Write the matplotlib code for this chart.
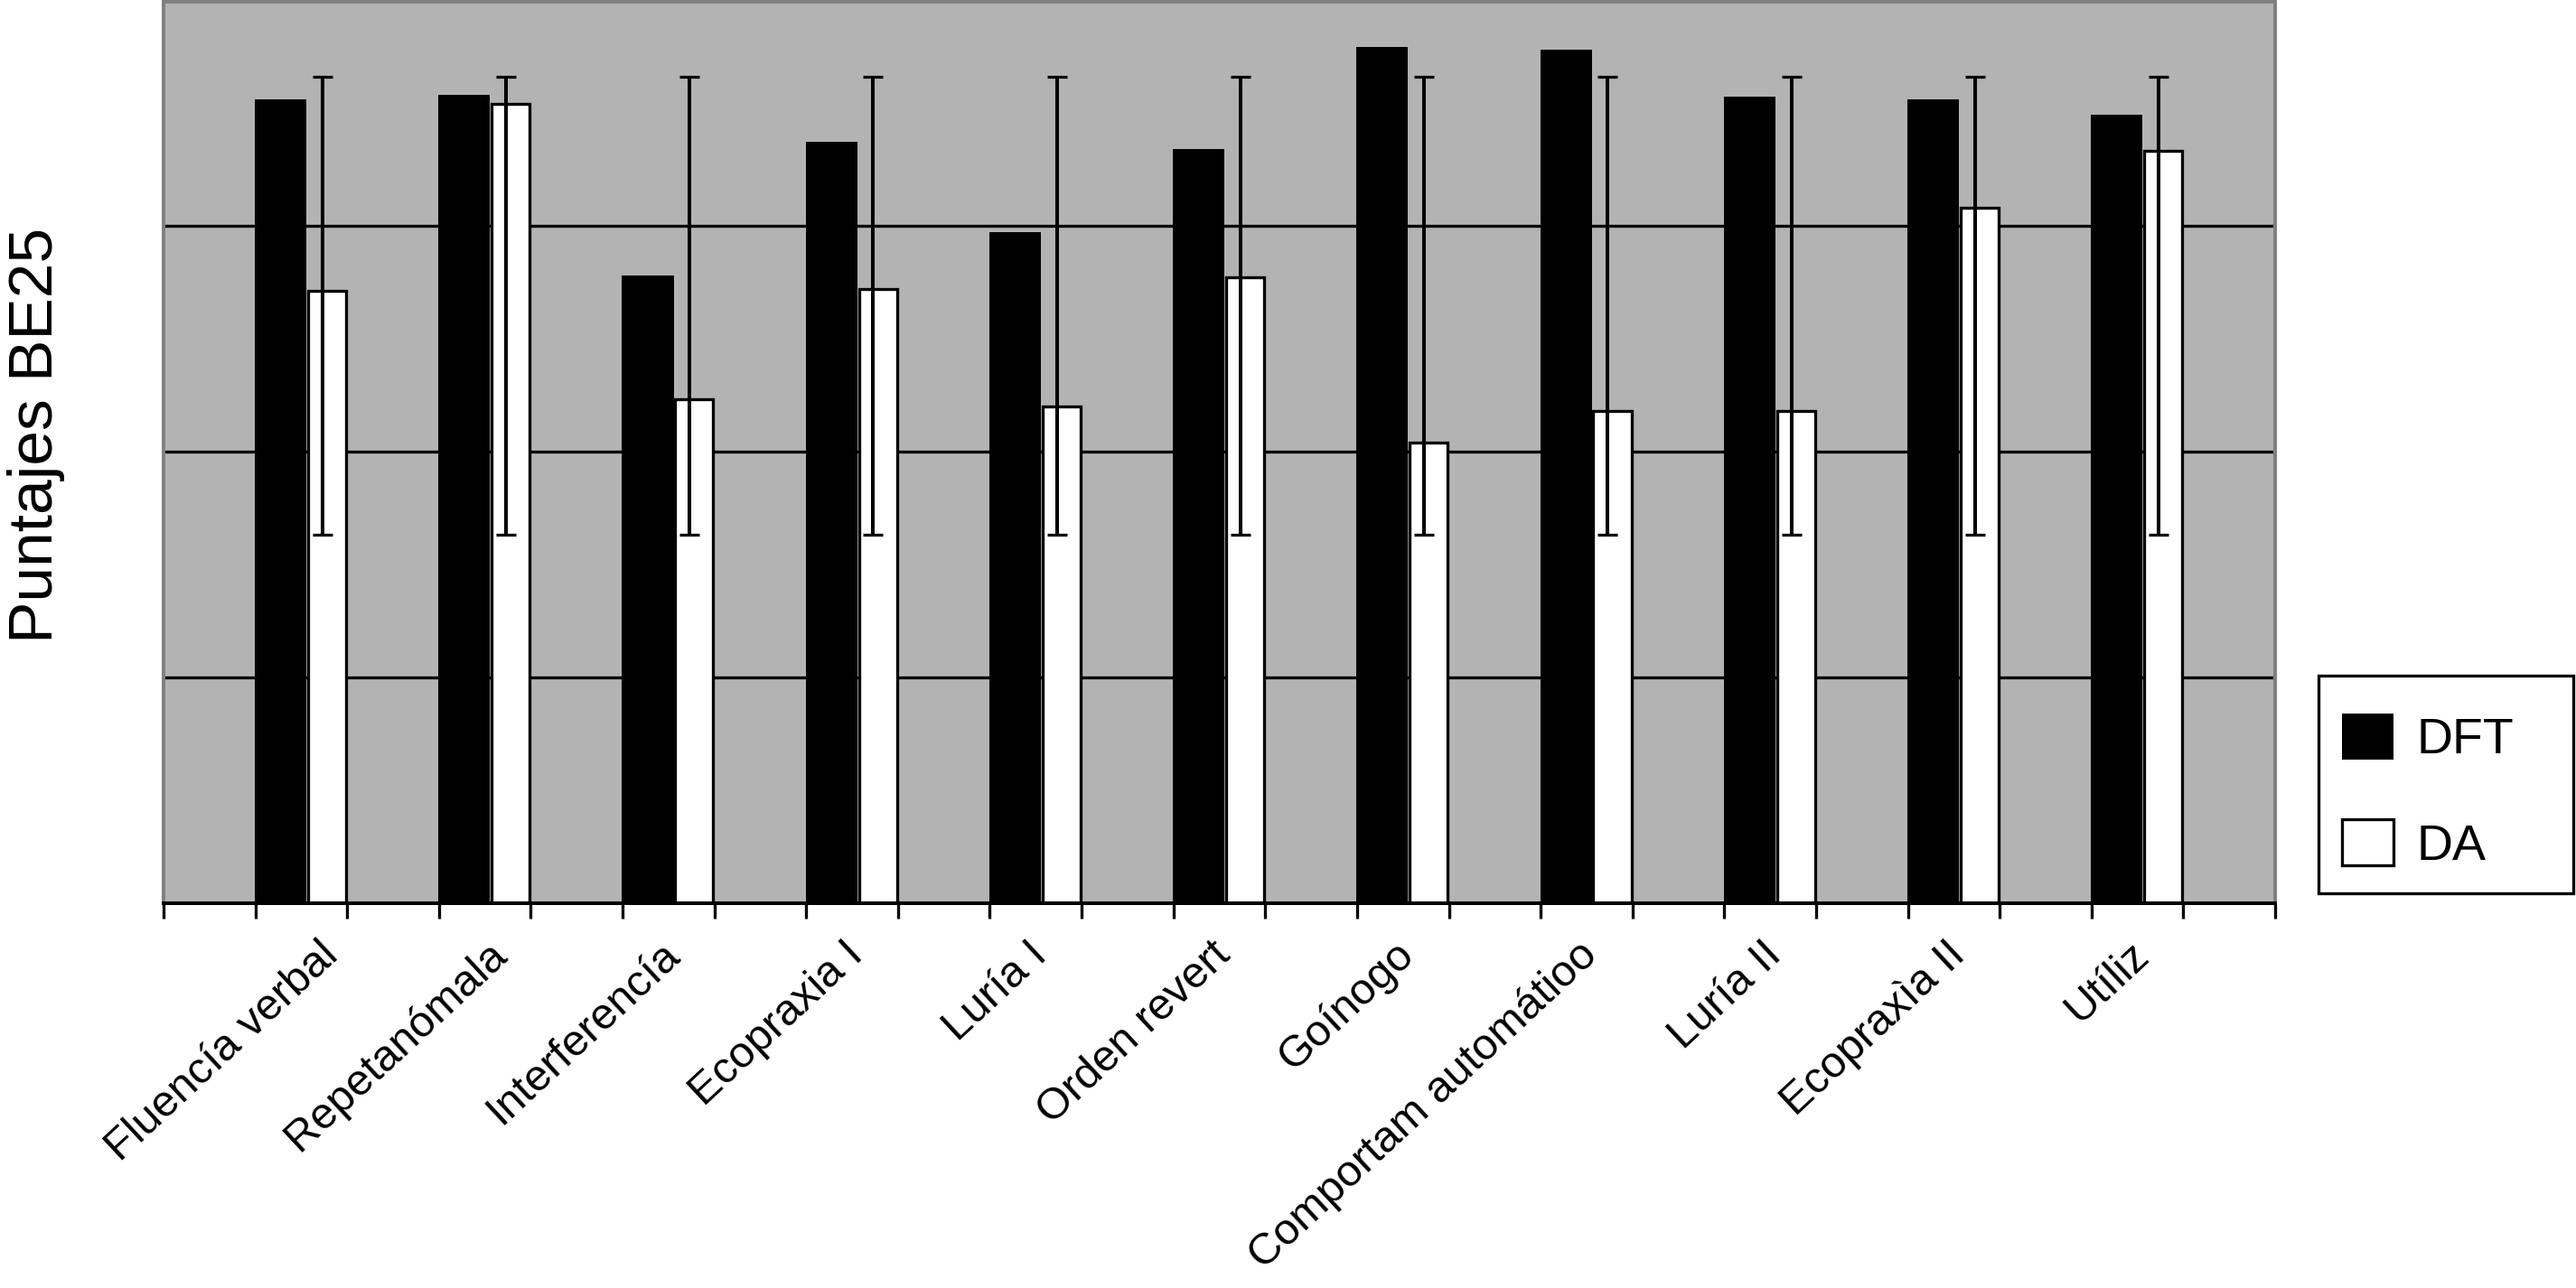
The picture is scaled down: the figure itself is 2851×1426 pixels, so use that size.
import numpy as np
import matplotlib
matplotlib.use("Agg")
import matplotlib.pyplot as plt
from matplotlib.patches import Patch, Rectangle

# ---------------- data ----------------
categories = ["Fluencía verbal", "Repetanómala", "Interferencía", "Ecopraxia I",
              "Luría I", "Orden revert", "Goínogo", "Comportam automátioo",
              "Luría II", "Ecopraxìa II", "Utíliz"]
dft = [3.56, 3.58, 2.78, 3.37, 2.97, 3.34, 3.79, 3.78, 3.57, 3.56, 3.49]
da = [2.71, 3.54, 2.23, 2.72, 2.20, 2.77, 2.04, 2.18, 2.18, 3.08, 3.33]
err_low = [1.63, 1.63, 1.63, 1.63, 1.63, 1.63, 1.63, 1.63, 1.63, 1.63, 1.63]
err_high = [3.66, 3.66, 3.66, 3.66, 3.66, 3.66, 3.66, 3.66, 3.66, 3.66, 3.66]
series_names = ["DFT", "DA"]
y_label = "Puntajes BE25"

# ---------------- style ----------------
plt.rcParams["font.family"] = ["Liberation Sans", "DejaVu Sans"]
W, H = 2851, 1426
DPI = 100
px = 72.0 / DPI  # points per pixel

fig = plt.figure(figsize=(W / DPI, H / DPI), dpi=DPI)
ax = fig.add_axes([181 / W, 1 - 1000 / H, (2518 - 181) / W, (1000 - 2) / H])
ax.set_facecolor("#b3b3b3")

n = len(categories)
idx = np.arange(n)
x_dft = idx + 0.497
x_da = idx + 0.787
x_err = idx + 0.865

ax.bar(x_dft, dft, width=0.281, align="edge", color="black", linewidth=0, zorder=2)
ax.bar(x_da, da, width=0.207, align="edge", facecolor="white", edgecolor="black",
       linewidth=3.3 * px, zorder=2)

low = np.array(err_low)
high = np.array(err_high)
mid = (low + high) / 2
ax.errorbar(x_err, mid, yerr=[mid - low, high - mid], fmt="none", ecolor="black",
            elinewidth=4 * px, capsize=11 * px, capthick=3.2 * px, zorder=3)

ax.set_xlim(0, 11.5)
ax.set_ylim(0, 3.99)

# gridlines
ax.set_yticks([1, 2, 3])
ax.set_yticklabels([])
ax.tick_params(axis="y", length=0)
ax.yaxis.grid(True, color="black", linewidth=3.3 * px)
ax.set_axisbelow(True)

# x ticks: minor tick marks every half unit, labels as major ticks
ax.set_xticks(np.arange(0, 11.51, 0.5), minor=True)
label_pos = idx + 0.82
label_pos[0] = 0.96
label_pos[1] = 1.88
ax.set_xticks(label_pos)
ax.set_xticklabels(categories, fontsize=35)
ax.tick_params(axis="x", which="major", length=0, pad=60 * px)
ax.tick_params(axis="x", which="minor", length=17 * px, width=3.3 * px,
               direction="out", color="black")
for lab in ax.get_xticklabels():
    lab.set_rotation(43)
    lab.set_ha("right")
    lab.set_va("baseline")
    lab.set_rotation_mode("anchor")

for side in ["left", "top", "right"]:
    ax.spines[side].set_color("#808080")
    ax.spines[side].set_linewidth(4 * px)
ax.spines["bottom"].set_color("black")
ax.spines["bottom"].set_linewidth(4 * px)
ax.spines["bottom"].set_zorder(4)

fig.text(40 / W, 1 - 482 / H, y_label, rotation=90, fontsize=50,
         ha="center", va="center")

# legend frame (exact box) + legend entries
frame = Rectangle((2566 / W, 1 - 989 / H), (2848 - 2566) / W, (989 - 748) / H,
                  transform=fig.transFigure, facecolor="white", edgecolor="black",
                  linewidth=3.3 * px, zorder=1)
fig.add_artist(frame)

handles = [Patch(facecolor="black", edgecolor="black", linewidth=0),
           Patch(facecolor="white", edgecolor="black", linewidth=3.3 * px)]
leg = fig.legend(handles, series_names, loc="upper left",
                 bbox_to_anchor=(2592 / W, 1 - 790 / H), bbox_transform=fig.transFigure,
                 borderaxespad=0, borderpad=0, fontsize=40, handlelength=1.025,
                 handleheight=1.025, handletextpad=0.46, labelspacing=1.1,
                 frameon=False)
leg.set_zorder(5)

fig.savefig("out.png", dpi=DPI, facecolor="white")
